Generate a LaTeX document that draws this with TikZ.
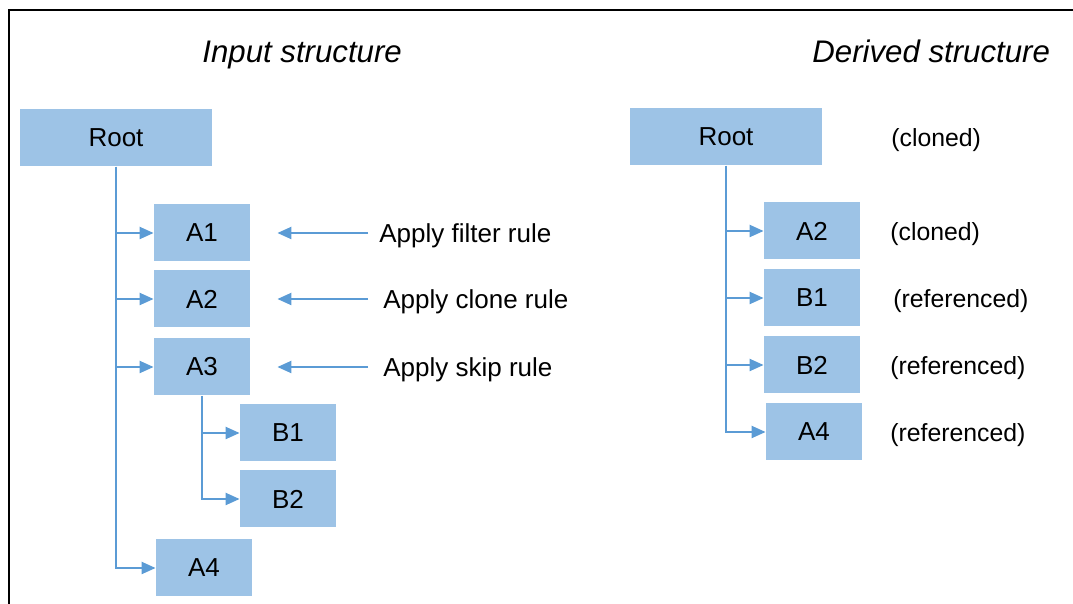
\documentclass[tikz,border=0pt]{standalone}
\usepackage{fontspec}
\setmainfont{Liberation Sans}
\usetikzlibrary{arrows.meta}
\definecolor{boxblue}{HTML}{9DC3E6}
\definecolor{lineblue}{HTML}{5B9BD5}

\begin{document}
\begin{tikzpicture}[x=0.5pt, y=-0.5pt,
            box/.style = {fill=boxblue, minimum width=48pt, minimum height=28.5pt,
                    inner sep=0pt, font=\fontsize{13}{15}\selectfont},
            widebox/.style = {box, minimum width=96pt},
            note/.style = {anchor=west, inner sep=0pt, text height=12pt,
                    text depth=2.7pt, font=\fontsize{13}{15}\selectfont},
            remark/.style = {note, font=\fontsize{12.4}{15}\selectfont},
            heading/.style = {anchor=base west, inner sep=0pt,
                    font=\fontsize{15.6}{18}\selectfont\itshape},
            link/.style = {draw=lineblue, line width=1.1pt,
                    -{Triangle[length=7pt,width=6pt]}}]
        \useasboundingbox (0,0) rectangle (1073,604);
        \draw[line width=1pt] (8.5,604) -- (8.5,10.5) -- (1073,10.5);

        % input tree
        \node[heading] (intitle) at (202,63) {Input structure};
        \node[widebox] (iroot) at (116,138) {Root};
        \node[box] (ia1) at (202,233) {A1};
        \node[box] (ia2) at (202,299) {A2};
        \node[box] (ia3) at (202,367) {A3};
        \node[box] (ib1) at (288,433) {B1};
        \node[box] (ib2) at (288,499) {B2};
        \node[box] (ia4) at (204,568) {A4};
        \foreach \n in {ia1,ia2,ia3,ia4}
            \draw[link] (iroot.south) |- (\n.west);
        \foreach \n in {ib1,ib2}
            \draw[link] (ia3.south) |- (\n.west);

        % rules
        \node[note] (rfilter) at (379,233) {Apply filter rule};
        \node[note] (rclone) at (383,299) {Apply clone rule};
        \node[note] (rskip) at (383,367) {Apply skip rule};
        \draw[link, shorten <=5.5pt, shorten >=13.5pt] (rfilter.west) -- (ia1.east);
        \draw[link, shorten <=7.5pt, shorten >=13.5pt] (rclone.west) -- (ia2.east);
        \draw[link, shorten <=7.5pt, shorten >=13.5pt] (rskip.west) -- (ia3.east);

        % derived tree
        \node[heading] (outtitle) at (812,63) {Derived structure};
        \node[widebox] (rroot) at (726,137) {Root};
        \node[box] (ra2) at (812,231) {A2};
        \node[box] (rb1) at (812,298) {B1};
        \node[box] (rb2) at (812,365) {B2};
        \node[box] (ra4) at (814,432) {A4};
        \foreach \n in {ra2,rb1,rb2,ra4}
            \draw[link] (rroot.south) |- (\n.west);

        \node[remark] (nroot) at (891,137) {(cloned)};
        \node[remark] (na2) at (890,231) {(cloned)};
        \node[remark] (nb1) at (893,298) {(referenced)};
        \node[remark] (nb2) at (890,365) {(referenced)};
        \node[remark] (na4) at (890,432) {(referenced)};
    \end{tikzpicture}
\end{document}
